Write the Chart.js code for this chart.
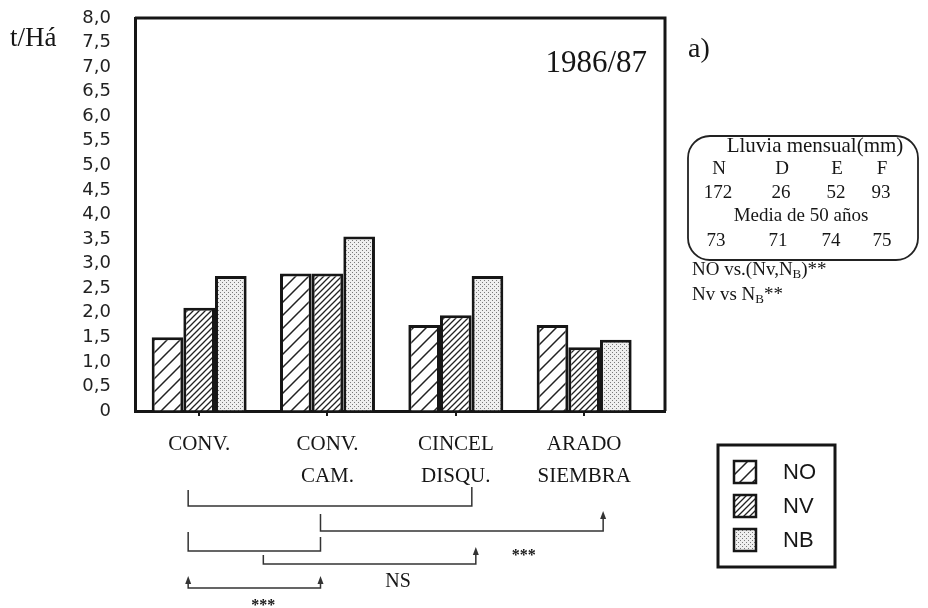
<!DOCTYPE html>
<html>
<head>
<meta charset="utf-8">
<script src="https://cdn.jsdelivr.net/npm/chart.js@4.4.0/dist/chart.umd.min.js"></script>
<style>
  html, body { margin: 0; padding: 0; background: #fff; }
  #wrap { width: 928px; height: 608px; position: relative; }
</style>
</head>
<body>
<div id="wrap"><canvas id="grafico"></canvas></div>
<script>
// datos (t/Ha, campaña 1986/87)
const categorias = [["CONV."], ["CONV.", "CAM."], ["CINCEL", "DISQU."], ["ARADO", "SIEMBRA"]];
const dataNO = [1.5, 2.8, 1.75, 1.75];
const dataNV = [2.1, 2.8, 1.95, 1.3];
const dataNB = [2.75, 3.55, 2.75, 1.45];
const series = ["NO", "NV", "NB"];
const tituloY = "t/Há";
const campania = "1986/87";
const panel = "a)";
const meses = ["N", "D", "E", "F"];
const lluviaMensual = [172, 26, 52, 93];
const lluviaMedia = [73, 71, 74, 75];
const signif = ["***", "NS", "***"];

const negro = "#161616";
const serif = '"Liberation Serif", "Times New Roman", serif';
const sans = '"Liberation Sans", Arial, sans-serif';

// tramas de las barras
function trama(tam, grosor) {
  const c = document.createElement("canvas");
  c.width = tam; c.height = tam;
  const g = c.getContext("2d");
  g.fillStyle = "#fff";
  g.fillRect(0, 0, tam, tam);
  g.strokeStyle = "#222";
  g.lineWidth = grosor;
  g.beginPath();
  g.moveTo(0, tam); g.lineTo(tam, 0);
  g.moveTo(-2, 2); g.lineTo(2, -2);
  g.moveTo(tam - 2, tam + 2); g.lineTo(tam + 2, tam - 2);
  g.stroke();
  return g.createPattern(c, "repeat");
}
function punteado() {
  const c = document.createElement("canvas");
  c.width = 4; c.height = 4;
  const g = c.getContext("2d");
  g.fillStyle = "#efefef";
  g.fillRect(0, 0, 4, 4);
  g.fillStyle = "#7a7a7a";
  g.fillRect(0, 0, 1, 1);
  g.fillRect(2, 2, 1, 1);
  return g.createPattern(c, "repeat");
}
const fondos = [trama(13, 1.5), trama(6, 1.3), punteado()];

function flecha(ctx, x, y) {
  ctx.beginPath();
  ctx.moveTo(x, y);
  ctx.lineTo(x - 3, y + 8);
  ctx.lineTo(x + 3, y + 8);
  ctx.closePath();
  ctx.fill();
}

// texto con subindice
function textoSub(ctx, partes, x, y) {
  partes.forEach(([t, sub]) => {
    ctx.font = sub ? "13px " + serif : "19px " + serif;
    ctx.fillText(t, x, sub ? y + 5 : y);
    x += ctx.measureText(t).width;
  });
}

const extras = {
  id: "extras",
  afterDraw(chart) {
    const ctx = chart.ctx;
    const a = chart.chartArea;
    const xs = chart.scales.x;
    const X = v => xs.getPixelForValue(v);
    ctx.save();

    // marco superior y derecho
    ctx.strokeStyle = negro;
    ctx.lineWidth = 3;
    ctx.beginPath();
    ctx.moveTo(a.left, a.top);
    ctx.lineTo(a.right, a.top);
    ctx.lineTo(a.right, a.bottom);
    ctx.stroke();

    ctx.fillStyle = negro;
    ctx.textBaseline = "alphabetic";
    ctx.textAlign = "left";
    ctx.font = "27px " + serif;
    ctx.fillText(tituloY, 10, 46);
    ctx.textAlign = "right";
    ctx.font = "31px " + serif;
    ctx.fillText(campania, a.right - 18, 72);
    ctx.textAlign = "left";
    ctx.font = "28px " + serif;
    ctx.fillText(panel, 688, 57);

    // etiquetas de categorias
    ctx.textAlign = "center";
    ctx.textBaseline = "middle";
    ctx.font = "21px " + serif;
    categorias.forEach((lin, i) => {
      lin.forEach((t, j) => ctx.fillText(t, X(i), 444 + j * 32));
    });

    // comparaciones
    ctx.strokeStyle = "#333";
    ctx.lineWidth = 1.5;
    const x0 = X(0) - 11, x1 = X(1) - 7;
    ctx.beginPath();
    ctx.moveTo(x0, 490); ctx.lineTo(x0, 506); ctx.lineTo(X(2) + 16, 506); ctx.lineTo(X(2) + 16, 487);
    ctx.moveTo(x1, 514); ctx.lineTo(x1, 531); ctx.lineTo(X(3) + 19, 531); ctx.lineTo(X(3) + 19, 515);
    ctx.moveTo(x0, 532); ctx.lineTo(x0, 551); ctx.lineTo(x1, 551); ctx.lineTo(x1, 537);
    ctx.moveTo(X(0.5), 555); ctx.lineTo(X(0.5), 564); ctx.lineTo(X(2) + 20, 564); ctx.lineTo(X(2) + 20, 552);
    ctx.moveTo(x0, 580); ctx.lineTo(x0, 588); ctx.lineTo(x1, 588); ctx.lineTo(x1, 580);
    ctx.stroke();
    ctx.fillStyle = "#333";
    flecha(ctx, X(3) + 19, 511);
    flecha(ctx, X(2) + 20, 547);
    flecha(ctx, x0, 576);
    flecha(ctx, x1, 576);

    ctx.fillStyle = negro;
    ctx.font = "bold 16px " + serif;
    ctx.fillText(signif[0], X(0.5), 606);
    ctx.fillText(signif[2], X(2.53), 556);
    ctx.font = "20px " + serif;
    ctx.fillText(signif[1], X(1.55), 582);

    // recuadro de lluvia
    ctx.strokeStyle = "#222";
    ctx.lineWidth = 1.8;
    ctx.beginPath();
    ctx.roundRect(688, 136, 230, 124, 22);
    ctx.stroke();
    ctx.font = "21px " + serif;
    ctx.fillText("Lluvia mensual(mm)", 815, 146);
    ctx.font = "19px " + serif;
    const cols = [719, 782, 837, 882];
    meses.forEach((m, i) => ctx.fillText(m, cols[i], 169));
    lluviaMensual.forEach((v, i) => ctx.fillText(String(v), cols[i] - 1, 193));
    ctx.fillText("Media de 50 años", 801, 216);
    const cols2 = [716, 778, 831, 882];
    lluviaMedia.forEach((v, i) => ctx.fillText(String(v), cols2[i], 241));

    ctx.textAlign = "left";
    textoSub(ctx, [["NO vs.(Nv,N", false], ["B", true], [")**", false]], 692, 270);
    textoSub(ctx, [["Nv vs N", false], ["B", true], ["**", false]], 692, 295);

    // leyenda
    ctx.strokeStyle = negro;
    ctx.lineWidth = 3;
    ctx.strokeRect(718, 445, 117, 122);
    chart.data.datasets.forEach((ds, i) => {
      const yc = 472 + i * 34;
      ctx.fillStyle = ds.backgroundColor;
      ctx.fillRect(734, yc - 11, 22, 22);
      ctx.lineWidth = 2.5;
      ctx.strokeRect(734, yc - 11, 22, 22);
      ctx.fillStyle = negro;
      ctx.font = "22px " + sans;
      ctx.fillText(ds.label, 783, yc + 1);
    });
    ctx.restore();
  }
};

const valores = [dataNO, dataNV, dataNB];
const chart = new Chart(document.getElementById("grafico"), {
  type: "bar",
  data: {
    datasets: series.map((nombre, k) => ({
      label: nombre,
      data: valores[k].map((v, i) => ({ x: i, y: v })),
      backgroundColor: fondos[k],
      borderColor: negro,
      borderWidth: 3,
      categoryPercentage: 0.74,
      barPercentage: 1,
    })),
  },
  options: {
    responsive: true,
    maintainAspectRatio: false,
    animation: false,
    layout: {
      padding: { top: 18, right: 263, bottom: 191, left: 0 },
    },
    plugins: {
      legend: { display: false },
      tooltip: { enabled: false },
    },
    scales: {
      x: {
        type: "linear",
        offset: false,
        min: -0.5,
        max: 3.63,
        afterBuildTicks: (s) => {
          s.ticks = [0.5, 1.5, 2.5].map((v) => ({ value: v }));
        },
        afterFit: (s) => {
          s.height = 6;
        },
        ticks: { display: false },
        grid: {
          drawOnChartArea: false,
          drawTicks: true,
          tickLength: 5,
          color: negro,
          lineWidth: 2,
        },
        border: { display: true, color: negro, width: 3 },
      },
      y: {
        min: 0,
        max: 8,
        afterFit: (s) => {
          s.width = 135;
        },
        ticks: {
          stepSize: 0.5,
          autoSkip: false,
          padding: 0,
          color: "#222",
          font: { family: "DejaVu Sans", size: 18, lineHeight: 1 },
          callback: (v) => (v === 0 ? "0" : v.toFixed(1).replace(".", ",")),
        },
        // marcas invisibles: solo separan las etiquetas del eje
        grid: {
          drawOnChartArea: false,
          drawTicks: true,
          tickLength: 24,
          color: "rgba(0,0,0,0)",
        },
        border: { display: true, color: negro, width: 3 },
      },
    },
  },
  plugins: [extras],
});
</script>
</body>
</html>
